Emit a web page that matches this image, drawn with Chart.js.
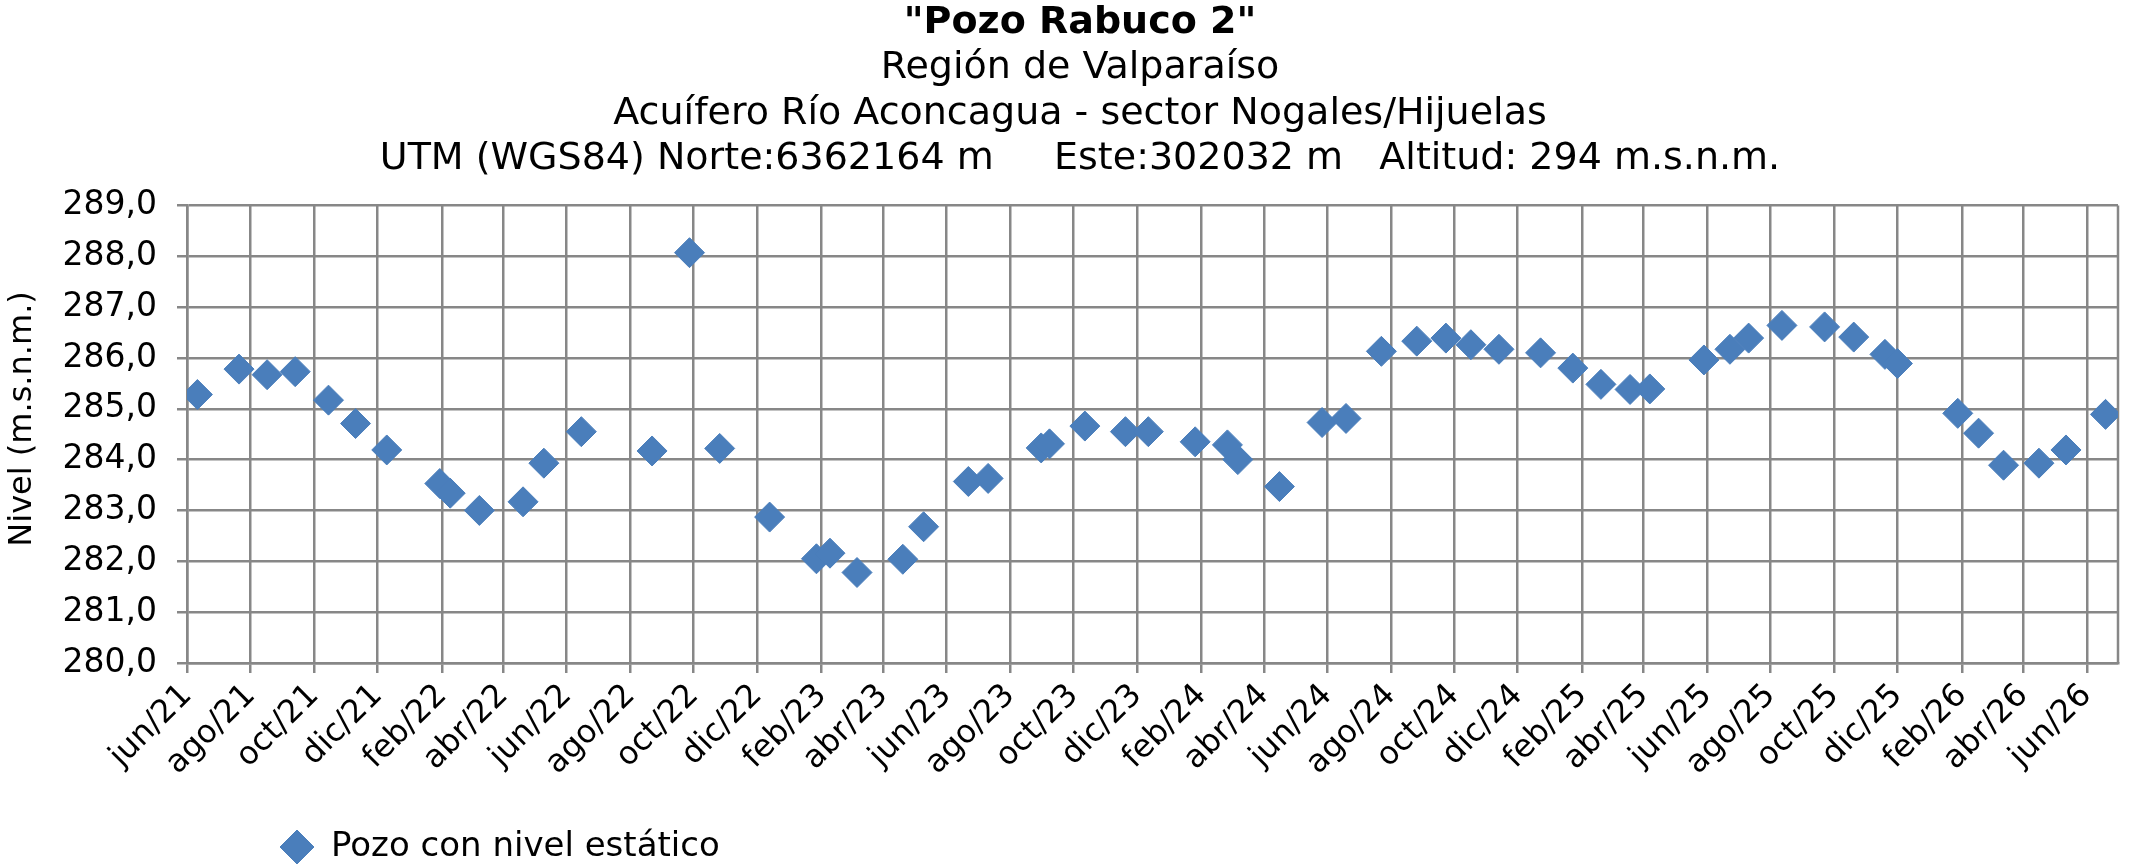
<!DOCTYPE html>
<html>
<head>
<meta charset="utf-8">
<script src="https://cdn.jsdelivr.net/npm/chart.js@4.4.1/dist/chart.umd.min.js"></script>
<style>
  html, body { margin: 0; padding: 0; background: #fff; overflow: hidden; }
  #wrap { width: 2134px; height: 868px; position: relative; }
</style>
</head>
<body>
<div id="wrap"><canvas id="myChart"></canvas></div>
<script>
// fechas de medicion y nivel estatico (m.s.n.m.)
const fechas = [
  '2021-06-11', '2021-07-21', '2021-08-17', '2021-09-13', '2021-10-15', '2021-11-10', '2021-12-10',
  '2022-01-30', '2022-02-09', '2022-03-09', '2022-04-20', '2022-05-10', '2022-06-15', '2022-08-22',
  '2022-09-27', '2022-10-26', '2022-12-13', '2023-01-27', '2023-02-09', '2023-03-07', '2023-04-20',
  '2023-05-10', '2023-06-22', '2023-07-11', '2023-08-31', '2023-09-08', '2023-10-12', '2023-11-20',
  '2023-12-12', '2024-01-26', '2024-02-26', '2024-03-07', '2024-04-16', '2024-05-27', '2024-06-19',
  '2024-07-23', '2024-08-26', '2024-09-23', '2024-10-17', '2024-11-13', '2024-12-23', '2025-01-23',
  '2025-02-19', '2025-03-19', '2025-04-07', '2025-05-29', '2025-06-23', '2025-07-11', '2025-08-12',
  '2025-09-22', '2025-10-20', '2025-11-19', '2025-12-01', '2026-01-28', '2026-02-17', '2026-03-13',
  '2026-04-16', '2026-05-12', '2026-06-19'
];
const niveles = [
  285.28, 285.78, 285.67, 285.73, 285.17, 284.71, 284.19,
  283.53, 283.34, 283.00, 283.17, 283.93, 284.55, 284.17,
  288.07, 284.22, 282.87, 282.05, 282.16, 281.78, 282.04,
  282.68, 283.57, 283.63, 284.23, 284.31, 284.66, 284.55,
  284.55, 284.35, 284.29, 284.00, 283.47, 284.73, 284.81,
  286.13, 286.33, 286.39, 286.26, 286.17, 286.10, 285.80,
  285.48, 285.38, 285.39, 285.96, 286.17, 286.39, 286.64,
  286.61, 286.41, 286.07, 285.89, 284.91, 284.52, 283.89,
  283.93, 284.19, 284.89
];
const etiquetasX = [
  'jun/21', 'ago/21', 'oct/21', 'dic/21', 'feb/22', 'abr/22', 'jun/22', 'ago/22',
  'oct/22', 'dic/22', 'feb/23', 'abr/23', 'jun/23', 'ago/23', 'oct/23', 'dic/23',
  'feb/24', 'abr/24', 'jun/24', 'ago/24', 'oct/24', 'dic/24', 'feb/25', 'abr/25',
  'jun/25', 'ago/25', 'oct/25', 'dic/25', 'feb/26', 'abr/26', 'jun/26'
];
const finEjeX = '2026-07-01';
const yMin = 280, yMax = 289, yPaso = 1;

const DIA = 86400000;
const meses = { ene: 0, feb: 1, mar: 2, abr: 3, may: 4, jun: 5, jul: 6, ago: 7, sep: 8, oct: 9, nov: 10, dic: 11 };
const aDia = s => {
  const [a, m, d] = s.split('-').map(Number);
  return Date.UTC(a, m - 1, d) / DIA;
};
const etiquetaADia = t => {
  const [m, a] = t.split('/');
  return Date.UTC(2000 + Number(a), meses[m], 1) / DIA;
};
const ticksX = etiquetasX.map(etiquetaADia);

const GRIS = '#878787';
const AZUL = '#4a7ebb';

Chart.defaults.font.family = "'DejaVu Sans', Verdana, sans-serif";
Chart.defaults.color = '#000';

// linea del borde derecho del area de trazado
const bordeDerecho = {
  id: 'bordeDerecho',
  beforeDatasetsDraw(chart) {
    const { ctx, chartArea: a } = chart;
    ctx.save();
    ctx.strokeStyle = GRIS;
    ctx.lineWidth = 2.5;
    ctx.beginPath();
    ctx.moveTo(a.right, a.top);
    ctx.lineTo(a.right, a.bottom);
    ctx.stroke();
    ctx.restore();
  }
};
// titulos un poco a la derecha y leyenda con sangria, como en el original
const ajustesCajas = {
  id: 'ajustesCajas',
  afterLayout(chart) {
    chart.boxes
      .filter(b => b.position === 'top' && !b.axis)
      .forEach(b => { b.left += 15; b.right += 15; });
    chart.legend.left += 237;
    chart.legend.top += 6;
  }
};

document.addEventListener('DOMContentLoaded', () => {
  const ctx = document.getElementById('myChart');

  const data = {
    datasets: [{
      label: 'Pozo con nivel estático',
      data: fechas.map((f, i) => ({ x: aDia(f), y: niveles[i] })),
      pointStyle: 'rectRot',
      pointRadius: 15,
      pointHoverRadius: 15,
      backgroundColor: AZUL,
      borderColor: AZUL,
      borderWidth: 1,
      showLine: false
    }]
  };

  const config = {
    type: 'scatter',
    data: data,
    options: {
      responsive: true,
      maintainAspectRatio: false,
      animation: false,
      layout: { padding: { left: 3, right: 7, top: 0, bottom: 0 } },
      plugins: {
        title: {
          display: true,
          text: '"Pozo Rabuco 2"',
          font: { size: 38, weight: 'bold', lineHeight: 1.2 },
          padding: { top: 0, bottom: 0 }
        },
        subtitle: {
          display: true,
          text: [
            'Región de Valparaíso',
            'Acuífero Río Aconcagua - sector Nogales/Hijuelas',
            'UTM (WGS84) Norte:6362164 m     Este:302032 m   Altitud: 294 m.s.n.m.'
          ],
          color: '#000',
          font: { size: 38, lineHeight: 1.2 },
          padding: { top: 0, bottom: 23 }
        },
        legend: {
          position: 'bottom',
          align: 'start',
          labels: {
            usePointStyle: true,
            boxWidth: 34,
            boxHeight: 24,
            padding: 40,
            font: { size: 34 }
          }
        },
        tooltip: { enabled: false }
      },
      scales: {
        x: {
          type: 'linear',
          min: ticksX[0],
          max: aDia(finEjeX),
          afterBuildTicks: scale => {
            scale.ticks = ticksX.map(v => ({ value: v }));
          },
          afterFit: scale => {
            scale.paddingLeft = 0;
            scale.paddingRight = 0;
            scale.height = 121;
          },
          ticks: {
            autoSkip: false,
            maxRotation: 45,
            minRotation: 45,
            padding: 4,
            font: { size: 32 },
            callback: (v, i) => etiquetasX[i]
          },
          grid: { color: GRIS, lineWidth: 2.5, tickLength: 10 },
          border: { color: GRIS, width: 2.5 }
        },
        y: {
          min: yMin,
          max: yMax,
          afterFit: scale => {
            scale.width = 184;
          },
          ticks: {
            stepSize: yPaso,
            padding: 20,
            font: { size: 33 },
            callback: v => v.toFixed(1).replace('.', ',')
          },
          grid: { color: GRIS, lineWidth: 2.5, tickLength: 10 },
          border: { color: GRIS, width: 2.5 },
          title: {
            display: true,
            text: '   Nivel (m.s.n.m.)',
            font: { size: 32 },
            padding: { top: 0, bottom: 4 }
          }
        }
      }
    },
    plugins: [bordeDerecho, ajustesCajas]
  };

  new Chart(ctx, config);
});
</script>
</body>
</html>
